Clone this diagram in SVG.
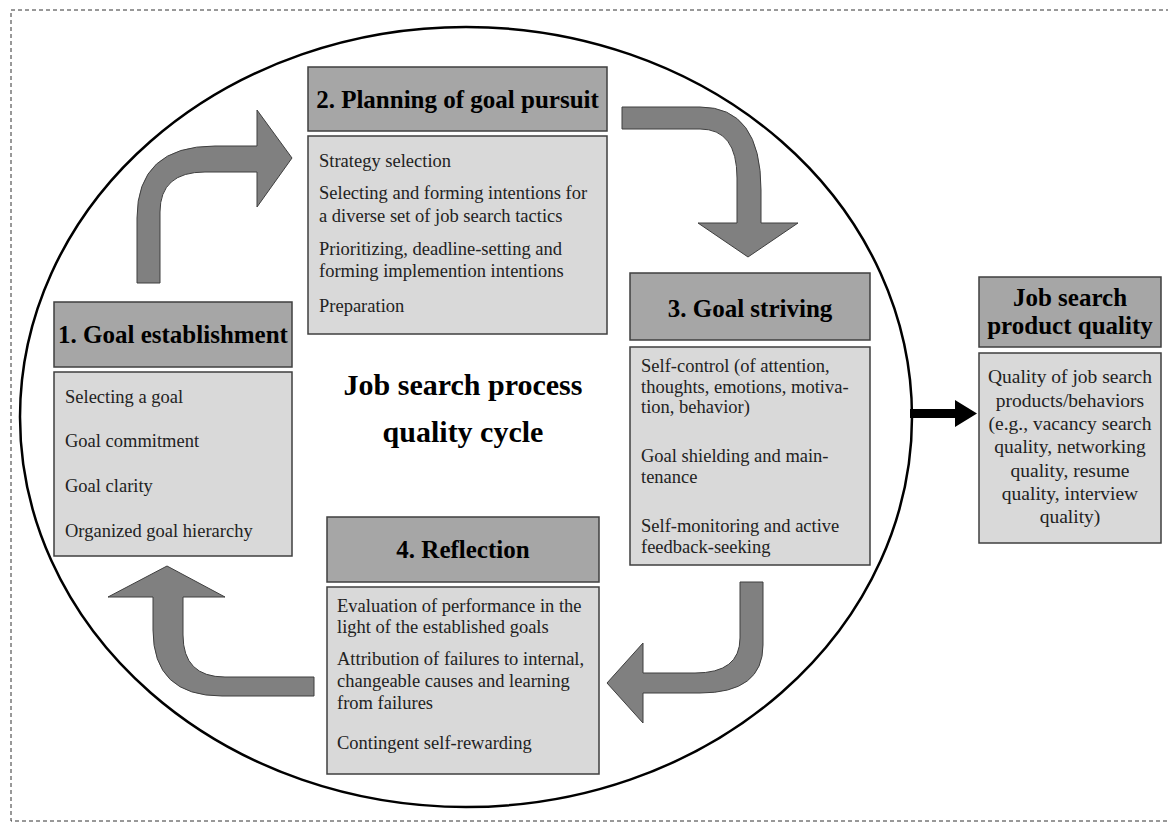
<svg xmlns="http://www.w3.org/2000/svg" width="1168" height="823" viewBox="0 0 1168 823">
<style>
.hd{fill:#a6a6a6;stroke:#3f3f3f;stroke-width:1.5}
.bd{fill:#d9d9d9;stroke:#3f3f3f;stroke-width:1.5}
.ttl{font-family:"Liberation Serif","Times New Roman",serif;font-weight:bold;font-size:25px;fill:#000;text-anchor:middle}
.big{font-size:30px}
.tx{font-family:"Liberation Serif","Times New Roman",serif;font-size:18.5px;fill:#222}
.txc{font-family:"Liberation Serif","Times New Roman",serif;font-size:19.5px;fill:#222;text-anchor:middle}
.arr{fill:#808080;stroke:#3f3f3f;stroke-width:1}
</style>
<rect x="11" y="10" width="1170" height="811" fill="none" stroke="#333" stroke-width="1" stroke-dasharray="4 3"/>
<ellipse cx="466" cy="417" rx="446" ry="390" fill="none" stroke="#000" stroke-width="2.5"/>
<g id="connectors">
<path class="arr" d="M137,283 L137,218 Q137,146 215,146 L257,146 L257,110 L292,158 L257,207 L257,172 L205,172 Q160,172 160,212 L160,283 Z"/>
<path class="arr" d="M622,107 L700,107 Q761,107 761,190 L761,223 L798,223 L748,257 L698,223 L737,223 L737,178 Q737,129 700,129 L622,129 Z"/>
<path class="arr" d="M740,582 L763,582 L763,645 Q763,693 700,693 L643,693 L643,723 L607,683 L643,643 L643,673 L695,673 Q740,673 740,638 Z"/>
<path class="arr" d="M314,677 L225,677 Q183,677 183,635 L183,597 L225,597 L167,566 L108,597 L153,597 L153,630 Q153,696 222,696 L314,696 Z"/>
<path d="M910,409 L955,409 L955,400 L977,413.5 L955,427 L955,418 L910,418 Z" fill="#000"/>
</g>
<g id="center-label">
<text class="ttl big" x="463" y="395">Job search process</text>
<text class="ttl big" x="463" y="442">quality cycle</text>
</g>
<g id="node-goal-establishment">
<rect class="hd" x="54" y="302" width="238" height="65"/>
<text class="ttl" x="173" y="343">1. Goal establishment</text>
<rect class="bd" x="54" y="372" width="238" height="184"/>
<text class="tx" x="65" y="403">Selecting a goal</text>
<text class="tx" x="65" y="447">Goal commitment</text>
<text class="tx" x="65" y="492">Goal clarity</text>
<text class="tx" x="65" y="537">Organized goal hierarchy</text>
</g>
<g id="node-planning">
<rect class="hd" x="308" y="67" width="299" height="64"/>
<text class="ttl" x="457.5" y="108">2. Planning of goal pursuit</text>
<rect class="bd" x="308" y="136" width="299" height="198"/>
<text class="tx" x="319" y="167">Strategy  selection</text>
<text class="tx" x="319" y="199">Selecting and forming intentions for</text>
<text class="tx" x="319" y="222">a diverse set of job search tactics</text>
<text class="tx" x="319" y="255">Prioritizing, deadline-setting and</text>
<text class="tx" x="319" y="277">forming implemention intentions</text>
<text class="tx" x="319" y="312">Preparation</text>
</g>
<g id="node-goal-striving">
<rect class="hd" x="630" y="273" width="240" height="67"/>
<text class="ttl" x="750" y="317">3. Goal striving</text>
<rect class="bd" x="630" y="347" width="240" height="218"/>
<text class="tx" x="641" y="372">Self-control (of attention,</text>
<text class="tx" x="641" y="393">thoughts, emotions, motiva-</text>
<text class="tx" x="641" y="413">tion, behavior)</text>
<text class="tx" x="641" y="462">Goal shielding and main-</text>
<text class="tx" x="641" y="483">tenance</text>
<text class="tx" x="641" y="532">Self-monitoring and active</text>
<text class="tx" x="641" y="553">feedback-seeking</text>
</g>
<g id="node-reflection">
<rect class="hd" x="327" y="517" width="272" height="65"/>
<text class="ttl" x="463" y="558">4. Reflection</text>
<rect class="bd" x="327" y="587" width="272" height="187"/>
<text class="tx" x="337" y="612">Evaluation of performance in the</text>
<text class="tx" x="337" y="633">light of the established goals</text>
<text class="tx" x="337" y="665">Attribution of failures to internal,</text>
<text class="tx" x="337" y="687">changeable causes and learning</text>
<text class="tx" x="337" y="709">from failures</text>
<text class="tx" x="337" y="749">Contingent  self-rewarding</text>
</g>
<g id="node-product-quality">
<rect class="hd" x="979" y="277" width="182" height="70"/>
<text class="ttl" x="1070" y="306">Job search</text>
<text class="ttl" x="1070" y="334">product quality</text>
<rect class="bd" x="979" y="353" width="182" height="190"/>
<text class="txc" x="1070" y="383">Quality of job search</text>
<text class="txc" x="1070" y="407">products/behaviors</text>
<text class="txc" x="1070" y="430">(e.g., vacancy search</text>
<text class="txc" x="1070" y="453">quality, networking</text>
<text class="txc" x="1070" y="477">quality, resume</text>
<text class="txc" x="1070" y="500">quality, interview</text>
<text class="txc" x="1070" y="523">quality)</text>
</g>
</svg>
